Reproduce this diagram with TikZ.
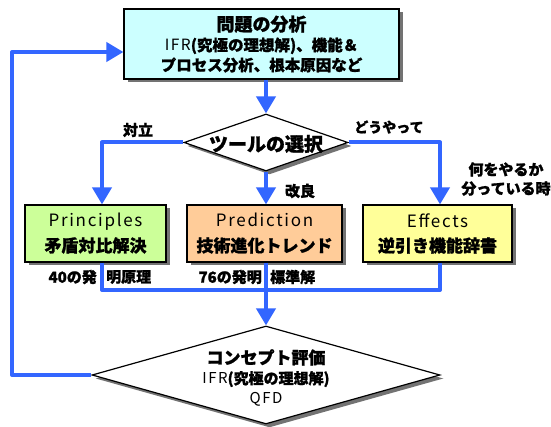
\documentclass[tikz,border=0pt]{standalone}
\usepackage{fontspec}
\setmainfont{Noto Sans CJK JP}[BoldFeatures={FakeBold=1.2}]
\newfontfamily\spfont[LetterSpace=10]{Noto Sans CJK JP}
\usetikzlibrary{shapes.geometric,arrows.meta,shadows}
\definecolor{lineblue}{RGB}{51,102,255}
\definecolor{probfill}{RGB}{204,255,255}
\definecolor{prinfill}{RGB}{204,255,153}
\definecolor{predfill}{RGB}{255,204,153}
\definecolor{efffill}{RGB}{255,255,153}
\tikzset{
  shad/.style={drop shadow={shadow xshift=3.5pt,shadow yshift=-3.5pt,fill=black!55,opacity=1}},
  box/.style={draw=black,line width=1.2pt,rectangle,shad,inner sep=0pt,align=center},
  dia/.style={draw=black,line width=1.2pt,diamond,fill=white,shad,inner sep=0pt},
  bl/.style={draw=lineblue,line width=4pt,line join=round},
  arr/.style={bl,-{Triangle[width=19pt,length=17pt]}},
  lbl/.style={font=\fontsize{15}{18}\selectfont\bfseries,inner sep=0pt,align=center},
}
\begin{document}
\begin{tikzpicture}[x=1pt,y=-1pt]
\useasboundingbox (0,0) rectangle (551,427);
% main nodes
\node[box,fill=probfill,minimum width=275pt,minimum height=70pt,
      font=\fontsize{15.5}{20}\selectfont\bfseries] (prob) at (261.5,44)
  {{\fontsize{18}{20}\selectfont 問題の分析}\\{\spfont\mdseries IFR}(究極の理想解)、機能＆\\プロセス分析、根本原因など};
\node[dia,minimum width=164pt,minimum height=57pt] (tool) at (266,142.5) {};
\node[font=\fontsize{19}{20}\selectfont\bfseries,inner sep=0pt] (tooltxt) at (266,144) {ツールの選択};
\node[box,fill=prinfill,minimum width=141pt,minimum height=57pt,
      font=\fontsize{17}{25}\selectfont] (pr) at (95.5,233.5)
  {{\spfont Principles}\\{\bfseries 矛盾対比解決}};
\node[box,fill=predfill,minimum width=155pt,minimum height=57pt,
      font=\fontsize{17}{25}\selectfont] (pd) at (264.5,233.5)
  {{\spfont Prediction}\\{\bfseries 技術進化トレンド}};
\node[box,fill=efffill,minimum width=149pt,minimum height=57pt,
      font=\fontsize{17}{25}\selectfont] (ef) at (437.5,233.5)
  {{\spfont Effects}\\{\bfseries 逆引き機能辞書}};
\node[dia,minimum width=348pt,minimum height=98pt] (cd) at (266,375) {};
\node[font=\fontsize{15}{20}\selectfont,align=center,inner sep=0pt] (cdtxt) at (266,378)
  {{\fontsize{17}{20}\selectfont\bfseries コンセプト評価}\\{\spfont IFR}{\bfseries(究極の理想解)}\\{\spfont QFD}};
% coordinates
\coordinate (lx) at (102,0);
\coordinate (rx) at (440,0);
\coordinate (bus) at (0,290);
\coordinate (lp) at (12,52);
% connectors
\draw[arr] (prob.south -| tool.north) -- (tool.north);
\draw[arr] (tool.west) -| (pr.north -| lx);
\draw[arr] (tool.east) -| (ef.north -| rx);
\draw[arr] (tool.south) -- (tool.south |- pd.north);
\draw[bl] (pr.south -| lx) -- (lx |- bus) -- (rx |- bus) -- (ef.south -| rx);
\draw[arr] (tool.south |- pd.south) -- (cd.north);
\draw[arr] (cd.west) -| (lp) -- (prob.west |- lp);
% labels
\node[lbl] (l1) at (138,130) {対立};
\node[lbl,font=\fontsize{14}{18}\selectfont\bfseries] (l2) at (389,127) {どうやって};
\node[lbl] (l3) at (300,191) {改良};
\node[lbl,font=\fontsize{15}{19}\selectfont\bfseries] (l4) at (506,179) {何をやるか\\分っている時};
\node[lbl,anchor=east] (l5a) at (97,277) {40の発};
\node[lbl,anchor=west] (l5b) at (106,277) {明原理};
\node[lbl,anchor=east] (l6a) at (262,277) {76の発明};
\node[lbl,anchor=west] (l6b) at (270,277) {標準解};
\end{tikzpicture}
\end{document}
